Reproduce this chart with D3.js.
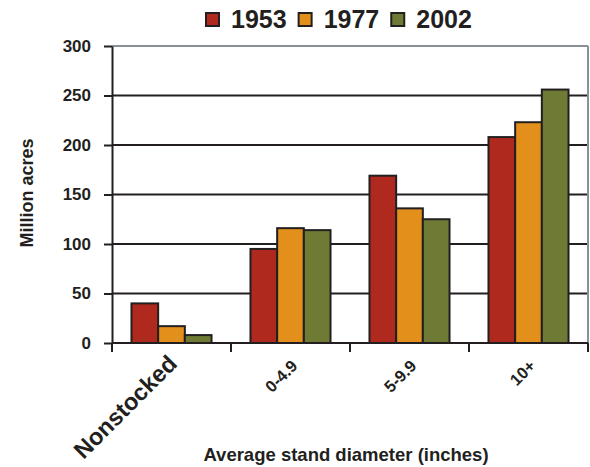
<!DOCTYPE html>
<html>
<head>
<meta charset="utf-8">
<script src="https://cdn.jsdelivr.net/npm/d3@7/dist/d3.min.js"></script>
<style>
  html, body { margin: 0; padding: 0; background: #fff; }
  svg { display: block; font-family: Arial, "Liberation Sans", Helvetica, sans-serif; }
</style>
</head>
<body>
<svg id="chart" width="590" height="467"></svg>
<script>
const categories = ["Nonstocked", "0-4.9", "5-9.9", "10+"];
const seriesNames = ["1953", "1977", "2002"];
const values1953 = [40, 95, 169, 208];
const values1977 = [17, 116, 136, 223];
const values2002 = [8, 114, 125, 256];
const seriesColors = ["#B0291E", "#E2901B", "#6F7B34"];
const yTicks = [0, 50, 100, 150, 200, 250, 300];
const yTitle = "Million acres";
const xTitle = "Average stand diameter (inches)";

const seriesValues = [values1953, values1977, values2002];
const ink = "#231f20";

const svg = d3.select("#chart");
const plotLeft = 112, plotRight = 588, plotTop = 46, plotBottom = 343;

const x = d3.scaleBand().domain(categories).range([plotLeft, plotRight]).paddingInner(0).paddingOuter(0);
const xs = d3.scaleBand().domain(seriesNames).range([0, x.bandwidth()]).paddingInner(0).paddingOuter(0.73);
const y = d3.scaleLinear().domain([0, 300]).range([plotBottom, plotTop]);

// gridlines
svg.append("g").selectAll("line").data(yTicks.filter(t => t > 0 && t < 300)).join("line")
  .attr("x1", plotLeft).attr("x2", plotRight)
  .attr("y1", d => y(d)).attr("y2", d => y(d))
  .attr("stroke", ink).attr("stroke-width", 2);

// grey frame top & right
svg.append("line").attr("x1", plotLeft).attr("x2", plotRight).attr("y1", y(300)).attr("y2", y(300))
  .attr("stroke", "#8a9096").attr("stroke-width", 2);
svg.append("line").attr("x1", plotRight).attr("x2", plotRight).attr("y1", y(300)).attr("y2", y(0))
  .attr("stroke", "#8a9096").attr("stroke-width", 2);

// bars
const data = [];
categories.forEach((c, i) => seriesNames.forEach((s, j) => data.push({ c, s, j, v: seriesValues[j][i] })));
svg.append("g").selectAll("rect").data(data).join("rect")
  .attr("x", d => x(d.c) + xs(d.s))
  .attr("y", d => y(d.v))
  .attr("width", xs.bandwidth())
  .attr("height", d => y(0) - y(d.v))
  .attr("fill", d => seriesColors[d.j])
  .attr("stroke", ink).attr("stroke-width", 2);

// y axis
const yAxis = svg.append("g").attr("transform", `translate(${plotLeft},0)`)
  .call(d3.axisLeft(y).tickValues(yTicks).tickSize(8).tickPadding(13).tickSizeOuter(0));
yAxis.select(".domain").attr("stroke", ink).attr("stroke-width", 2);
yAxis.selectAll(".tick line").attr("stroke", ink).attr("stroke-width", 2);
yAxis.selectAll(".tick text").attr("fill", ink).attr("font-size", 17).attr("font-weight", "bold")
  .attr("font-family", "Arial, 'Liberation Sans', sans-serif");

// x axis baseline
svg.append("line").attr("x1", plotLeft).attr("x2", plotRight).attr("y1", y(0)).attr("y2", y(0))
  .attr("stroke", ink).attr("stroke-width", 2);
// x boundary ticks
const bounds = categories.map(c => x(c)).concat([x.range()[1]]);
svg.append("g").selectAll("line").data(bounds).join("line")
  .attr("x1", d => d).attr("x2", d => d)
  .attr("y1", y(0)).attr("y2", y(0) + 9)
  .attr("stroke", ink).attr("stroke-width", 2);

// x labels
svg.append("g").selectAll("text").data(categories).join("text")
  .attr("transform", (d, i) => {
    const cx = x(d) + x.bandwidth() / 2 + (i === 0 ? 7 : 8);
    return `translate(${cx},${i === 0 ? 365 : 367}) rotate(-45)`;
  })
  .attr("text-anchor", "end")
  .attr("font-size", (d, i) => i === 0 ? 23.5 : 16.5)
  .attr("font-weight", "bold")
  .attr("fill", ink)
  .text(d => d);

// axis titles
svg.append("text")
  .attr("transform", "translate(33,193) rotate(-90)")
  .attr("text-anchor", "middle")
  .attr("font-size", 18).attr("font-weight", "bold").attr("fill", ink)
  .text(yTitle);

svg.append("text")
  .attr("x", 346).attr("y", 461)
  .attr("text-anchor", "middle")
  .attr("font-size", 18.5).attr("font-weight", "bold").attr("fill", ink)
  .text(xTitle);

// legend
const legend = svg.append("g");
let lx = 205;
seriesNames.forEach((s, j) => {
  legend.append("rect").attr("x", lx + 1).attr("y", 13).attr("width", 13).attr("height", 13)
    .attr("fill", seriesColors[j]).attr("stroke", ink).attr("stroke-width", 2);
  const t = legend.append("text").attr("x", lx + 26).attr("y", 28)
    .attr("font-size", 25).attr("font-weight", "bold").attr("fill", ink).text(s);
  lx = lx + 26 + t.node().getComputedTextLength() + 11;
});
</script>
</body>
</html>
